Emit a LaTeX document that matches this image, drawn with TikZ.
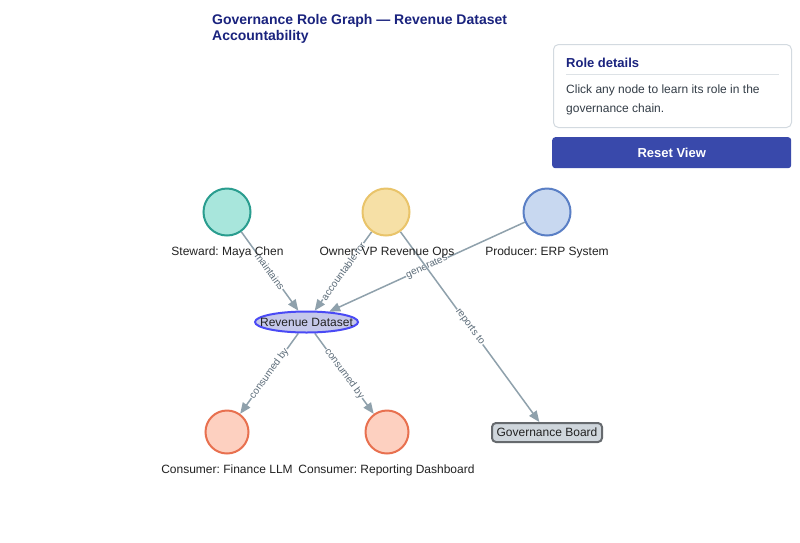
\documentclass[tikz,border=0pt]{standalone}
\usepackage{fontspec}
\setmainfont{Liberation Sans}
\usetikzlibrary{arrows.meta,shapes.geometric}
\definecolor{titlec}{HTML}{1A237E}
\definecolor{stewf}{HTML}{A8E6DC}
\definecolor{stews}{HTML}{2A9D8F}
\definecolor{ownf}{HTML}{F6E0A6}
\definecolor{owns}{HTML}{E9C46A}
\definecolor{prodf}{HTML}{C8D8F0}
\definecolor{prods}{HTML}{5A7FC5}
\definecolor{consf}{HTML}{FDD0C0}
\definecolor{conss}{HTML}{E8704F}
\definecolor{revf}{HTML}{C5C8EA}
\definecolor{revs}{HTML}{4A4AF5}
\definecolor{boardf}{HTML}{CFD6DC}
\definecolor{boards}{HTML}{666A6E}
\definecolor{edgec}{HTML}{8FA1AC}
\definecolor{elabc}{HTML}{5B6B78}
\definecolor{panelc}{HTML}{D3DAE0}
\definecolor{sepc}{HTML}{DDE2E6}
\definecolor{bodyc}{HTML}{333D47}
\definecolor{btnc}{HTML}{3949AB}
\definecolor{labc}{HTML}{222222}
\frenchspacing
\begin{document}
\begin{tikzpicture}[x=1pt,y=-1pt,
  role/.style={circle, line width=2pt, minimum size=47pt, inner sep=0pt},
  cons/.style={circle, line width=2pt, draw=conss, fill=consf, minimum size=43pt, inner sep=0pt},
  revshape/.style={ellipse, draw=revs, fill=revf, line width=2pt, minimum width=103pt, minimum height=21pt, inner sep=0pt},
  boardshape/.style={draw=boards, fill=boardf, line width=2pt, rounded corners=4pt, minimum width=110pt, minimum height=19pt, inner sep=0pt},
  edge/.style={draw=edgec, line width=1.5pt, -{Triangle[length=11pt,width=9pt]}},
  elabel/.style={font=\fontsize{10}{12}\selectfont, text=elabc, fill=white, inner sep=0.5pt, sloped, midway},
  nlabel/.style={font=\fontsize{12}{14}\selectfont, text=labc, anchor=base, inner sep=0pt},
  ttl/.style={font=\bfseries\fontsize{14}{16}\selectfont, text=titlec, anchor=base west, inner sep=0pt},
  body/.style={font=\fontsize{12}{14}\selectfont, text=bodyc, anchor=base west, inner sep=0pt}
]
\useasboundingbox (0,0) rectangle (800,542);
\fill[white] (0,0) rectangle (800,542);

% title
\node[ttl] (t1) at (212,24) {Governance Role Graph — Revenue Dataset};
\node[ttl] (t2) at (212,40) {Accountability};

% panel
\node (panel) [draw=panelc, fill=white, rounded corners=5pt, line width=1pt, minimum width=238pt, minimum height=83pt, inner sep=0pt, anchor=north west] at (553,44) {};
\node[font=\bfseries\fontsize{13}{15}\selectfont, text=titlec, anchor=base west, inner sep=0pt] (ptitle) at (566,67) {Role details};
\coordinate (s1) at (566,74);
\coordinate (s2) at (779,74);
\draw[sepc, line width=1pt] (s1) -- (s2);
\node[body] (pb1) at (566,93) {Click any node to learn its role in the};
\node[body] (pb2) at (566,112) {governance chain.};
\node (reset) [fill=btnc, rounded corners=3pt, minimum width=239pt, minimum height=31pt, inner sep=0pt, anchor=north west, text=white, font=\bfseries\fontsize{13}{15}\selectfont] at (552,137) {Reset View};

% node positions
\node[role] (stew) at (227,212) {};
\node[role] (own) at (386,212) {};
\node[role] (prod) at (547,212) {};
\node[revshape, draw=none, fill=none] (rev) at (306.5,322) {};
\node[cons, draw=none, fill=none] (fin) at (227,432) {};
\node[cons, draw=none, fill=none] (rep) at (387,432) {};
\node[boardshape, draw=none, fill=none] (board) at (547,432.5) {};

% edges
\path[edge] (stew) -- (rev) node[elabel] {maintains};
\path[edge] (own) -- (rev) node[elabel] {accountable for};
\path[edge] (prod) -- (rev) node[elabel] {generates};
\path[edge] (own) -- (board) node[elabel] {reports to};
\path[edge] (rev) -- (fin) node[elabel] {consumed by};
\path[edge] (rev) -- (rep) node[elabel] {consumed by};

% node shapes on top of edges
\node[role, draw=stews, fill=stewf] at (stew) {};
\node[role, draw=owns, fill=ownf] at (own) {};
\node[role, draw=prods, fill=prodf] at (prod) {};
\node[revshape] at (rev) {};
\node[cons] at (fin) {};
\node[cons] at (rep) {};
\node[boardshape] at (board) {};

% texts
\node[font=\fontsize{12}{14}\selectfont, text=labc, inner sep=0pt] (revt) at (rev) {Revenue Dataset};
\node[font=\fontsize{12}{14}\selectfont, text=labc, inner sep=0pt] (boardt) at (board) {Governance Board};
\node[nlabel] (stewl) at (227.5,255) {Steward: Maya Chen};
\node[nlabel] (ownl) at (387,255) {Owner: VP Revenue Ops};
\node[nlabel] (prodl) at (547,255) {Producer: ERP System};
\node[nlabel] (finl) at (227,473) {Consumer: Finance LLM};
\node[nlabel] (repl) at (386.5,473) {Consumer: Reporting Dashboard};
\end{tikzpicture}
\end{document}
